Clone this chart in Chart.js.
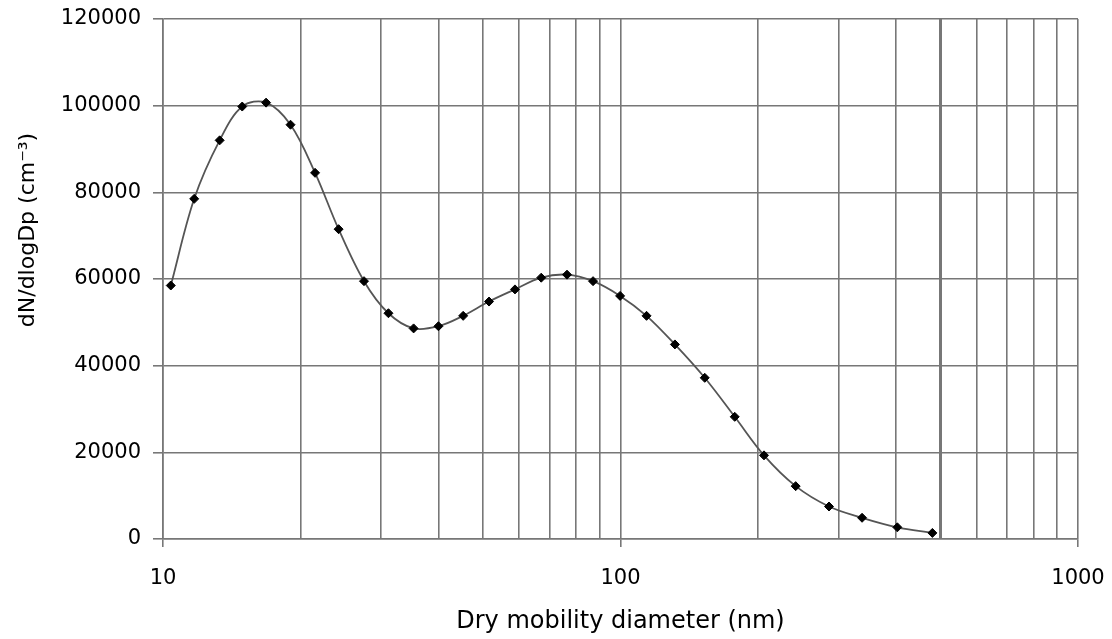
<!DOCTYPE html>
<html>
<head>
<meta charset="utf-8">
<script src="https://cdn.jsdelivr.net/npm/chart.js@4"></script>
<style>
  body { margin: 0; background: #fff; }
  #wrap { width: 1112px; height: 639px; position: relative; }
</style>
</head>
<body>
<div id="wrap"><canvas id="myChart"></canvas></div>
<script>
// diametre (nm) et concentration
const diameters = [10.4, 11.7, 13.3, 14.9, 16.8, 19.0, 21.5, 24.2, 27.5, 31.1, 35.3, 40.0, 45.3, 51.6,
  58.8, 67.1, 76.4, 87.1, 99.8, 114, 131.5, 152.8, 177.7, 205.9, 241.5, 285.6, 337.3, 402.8, 480.5];
const dNdlogDp = [58500, 78500, 92000, 99800, 100700, 95600, 84500, 71500, 59500, 52100, 48600, 49100, 51500, 54800,
  57600, 60300, 61000, 59500, 56100, 51500, 44900, 37200, 28200, 19300, 12200, 7500, 4900, 2700, 1400];

// graduations
const xTicks = [10, 20, 30, 40, 50, 60, 70, 80, 90, 100, 200, 300, 400, 500, 600, 700, 800, 900, 1000];
const xLabels = [10, 100, 1000];
const yTicks = [0, 20000, 40000, 60000, 80000, 100000, 120000];

const xTitle = 'Dry mobility diameter (nm)';
const yTitle = 'dN/dlogDp (cm\u207B\u00B3)';

const gridColor = '#777';

// titres des axes dessines a la main (position du titre Y decalee vers le haut)
const axisTitles = {
  id: 'axisTitles',
  afterDraw(chart) {
    const ctx = chart.ctx;
    const area = chart.chartArea;
    ctx.save();
    ctx.fillStyle = '#000';
    ctx.textAlign = 'center';
    ctx.textBaseline = 'middle';
    ctx.font = '24px "DejaVu Sans"';
    ctx.fillText(xTitle, (area.left + area.right) / 2, 622);
    ctx.translate(28, 230);
    ctx.rotate(-Math.PI / 2);
    ctx.font = '22px "DejaVu Sans"';
    ctx.fillText(yTitle, 0, 0);
    ctx.restore();
  }
};

new Chart(document.getElementById('myChart'), {
  type: 'scatter',
  data: {
    datasets: [{
      data: diameters.map((d, i) => ({ x: d, y: dNdlogDp[i] })),
      showLine: true,
      borderColor: '#555',
      borderWidth: 1.8,
      tension: 0.35,
      pointStyle: 'rectRot',
      pointRadius: 4.5,
      pointHoverRadius: 4.5,
      pointBackgroundColor: '#000',
      pointBorderColor: '#000',
      pointBorderWidth: 1
    }]
  },
  options: {
    responsive: true,
    maintainAspectRatio: false,
    animation: false,
    layout: { padding: { left: 0, top: 19, right: 34, bottom: 0 } },
    plugins: {
      legend: { display: false },
      tooltip: { enabled: false }
    },
    scales: {
      x: {
        type: 'logarithmic',
        min: 10,
        max: 1000,
        afterBuildTicks: (scale) => {
          scale.ticks = xTicks.map(v => ({ value: v }));
        },
        afterFit: (scale) => {
          scale.height = 100;
          scale.paddingLeft = 0;
          scale.paddingRight = 0;
        },
        ticks: {
          autoSkip: false,
          maxRotation: 0,
          padding: 19,
          color: '#000',
          font: { family: '"DejaVu Sans"', size: 21 },
          callback: (v) => xLabels.includes(v) ? String(v) : ''
        },
        grid: {
          color: gridColor,
          lineWidth: (c) => c.tick && c.tick.value === 500 ? 3 : 1.6,
          tickLength: 8,
          tickColor: (c) => c.tick && xLabels.includes(c.tick.value) ? gridColor : 'rgba(0,0,0,0)'
        },
        border: { color: gridColor, width: 1.6 }
      },
      y: {
        min: 0,
        max: 120000,
        afterBuildTicks: (scale) => {
          scale.ticks = yTicks.map(v => ({ value: v }));
        },
        afterFit: (scale) => {
          scale.width = 163;
          scale.paddingTop = 0;
          scale.paddingBottom = 0;
        },
        ticks: {
          padding: 12,
          color: '#000',
          font: { family: '"DejaVu Sans"', size: 21 },
          callback: (v) => String(v)
        },
        grid: {
          color: gridColor,
          lineWidth: 1.6,
          tickLength: 10
        },
        border: { color: gridColor, width: 1.6 }
      }
    }
  },
  plugins: [axisTitles]
});
</script>
</body>
</html>
